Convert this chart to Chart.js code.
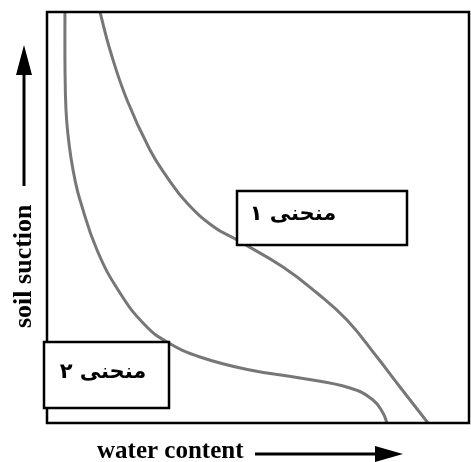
<!DOCTYPE html>
<html>
<head>
<meta charset="utf-8">
<script src="https://cdn.jsdelivr.net/npm/chart.js@4/dist/chart.umd.min.js"></script>
<style>
html,body{margin:0;padding:0;background:#fff;}
#wrap{width:471px;height:462px;position:relative;}
</style>
</head>
<body>
<div id="wrap"><canvas id="c" width="471" height="462"></canvas></div>
<script>
// Curve 1 (right) : water content vs soil suction (relative units 0-100)
const waterContent1 = [12.56, 14.93, 18.96, 24.41, 28.44, 33.18, 39.57, 45.02, 55.92, 63.98, 71.09, 78.20, 83.65, 90.28];
const suction1      = [100, 90.75, 78.59, 66.42, 59.85, 53.53, 47.69, 44.53, 37.96, 31.63, 25.06, 16.06, 8.76, 0];
// Curve 2 (left)
const waterContent2 = [4.25, 4.27, 4.50, 4.98, 5.69, 6.64, 7.82, 11.85, 17.30, 23.22, 28.44, 36.26, 48.10, 59.95, 71.80, 77.25, 79.62, 80.57];
const suction2      = [100, 85.89, 76.16, 70.07, 64.48, 59.12, 54.26, 42.09, 31.63, 23.84, 19.71, 16.06, 12.90, 10.95, 8.52, 5.60, 2.43, 0];
const curveLabels = ['منحنی ۱', 'منحنی ۲'];
const xTitle = 'water content';
const yTitle = 'soil suction';

const toPts = (xs, ys) => xs.map((x, i) => ({x: x, y: ys[i]}));

const lineColor = '#777777';

const decor = {
  id: 'decor',
  afterDatasetsDraw(chart) {
    const ctx = chart.ctx;
    const a = chart.chartArea;
    ctx.save();
    // frame
    ctx.strokeStyle = '#000';
    ctx.lineWidth = 2.5;
    ctx.strokeRect(a.left, a.top, a.right - a.left, a.bottom - a.top);

    // label boxes
    const boxes = [
      {x: 237, y: 191, w: 170, h: 54, tx: 293, ty: 215},
      {x: 44, y: 342, w: 125, h: 66, tx: 103, ty: 373}
    ];
    boxes.forEach((b, i) => {
      ctx.fillStyle = '#fff';
      ctx.fillRect(b.x, b.y, b.w, b.h);
      ctx.lineWidth = 2.5;
      ctx.strokeStyle = '#000';
      ctx.strokeRect(b.x, b.y, b.w, b.h);
      ctx.fillStyle = '#000';
      ctx.font = 'bold 21px "DejaVu Sans"';
      ctx.direction = 'rtl';
      ctx.textAlign = 'center';
      ctx.textBaseline = 'middle';
      ctx.fillText(curveLabels[i], b.tx, b.ty);
    });

    // x title + arrow
    ctx.direction = 'ltr';
    ctx.font = 'bold 25px "Liberation Serif"';
    ctx.textAlign = 'left';
    ctx.textBaseline = 'middle';
    const xtY = 452;
    ctx.fillText(xTitle, 97, xtY);
    ctx.lineWidth = 3;
    ctx.beginPath();
    ctx.moveTo(255, xtY + 2);
    ctx.lineTo(382, xtY + 2);
    ctx.stroke();
    ctx.beginPath();
    ctx.moveTo(403, xtY + 2);
    ctx.lineTo(375, xtY - 6);
    ctx.lineTo(375, xtY + 10);
    ctx.closePath();
    ctx.fill();

    // y title + arrow
    ctx.save();
    ctx.translate(24, 0);
    ctx.rotate(-Math.PI / 2);
    ctx.textAlign = 'left';
    ctx.font = 'bold 26px "Liberation Serif"';
    ctx.fillText(yTitle, -328, 0);
    ctx.restore();
    ctx.beginPath();
    ctx.moveTo(24, 186);
    ctx.lineTo(24, 65);
    ctx.stroke();
    ctx.beginPath();
    ctx.moveTo(24, 45);
    ctx.lineTo(16, 75);
    ctx.lineTo(32, 75);
    ctx.closePath();
    ctx.fill();
    ctx.restore();
  }
};

new Chart(document.getElementById('c'), {
  type: 'scatter',
  data: {
    datasets: [
      {data: toPts(waterContent1, suction1)},
      {data: toPts(waterContent2, suction2)}
    ]
  },
  options: {
    responsive: false,
    animation: false,
    layout: {padding: {left: 47, top: 12, right: 2, bottom: 39}},
    showLine: true,
    elements: {
      point: {radius: 0},
      line: {tension: 0.45, borderColor: lineColor, borderWidth: 3}
    },
    plugins: {legend: {display: false}, tooltip: {enabled: false}},
    scales: {
      x: {display: false, min: 0, max: 100},
      y: {display: false, min: 0, max: 100}
    }
  },
  plugins: [decor]
});
</script>
</body>
</html>
